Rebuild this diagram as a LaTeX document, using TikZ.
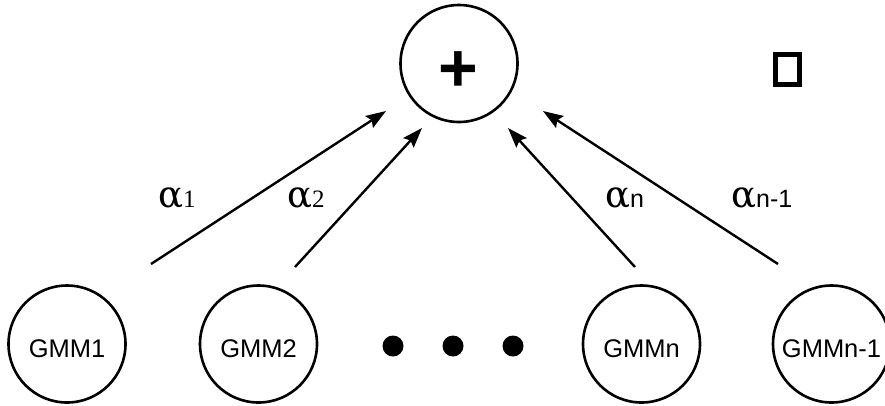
\documentclass[tikz,border=0pt]{standalone}
\usepackage{fontspec}
\setmainfont{Liberation Sans}
\newfontfamily\serifdigits{Liberation Serif}
\newfontfamily\greekserif{DejaVu Serif}
\usetikzlibrary{arrows.meta}
\newcommand{\wsym}{{\greekserif\fontsize{37}{37}\selectfont α}}
\newcommand{\wserif}[1]{{\serifdigits\fontsize{25}{25}\selectfont #1}}
\newcommand{\wsans}[1]{{\fontsize{25}{25}\selectfont #1}}
\begin{document}
\begin{tikzpicture}[x=1pt,y=-1pt,
  unit/.style={circle,draw,line width=2.6pt,minimum size=117pt,inner sep=0pt,
    font=\fontsize{25.5}{25.5}\selectfont,text height=26pt,text depth=0pt},
  sumnode/.style={circle,draw,line width=2.6pt,minimum size=117pt,inner sep=0pt},
  weight/.style={-{Stealth[length=20pt,width=14pt,inset=3pt]},line width=2.4pt},
  wlabel/.style={anchor=base west,inner sep=0pt},
  dotnode/.style={circle,fill,minimum size=21pt,inner sep=0pt},
]
\useasboundingbox (0,0) rectangle (885,405);
\fill[white] (0,0) rectangle (885,405);

% summing node
\node[sumnode] (sum) at (459,63.5) {};
\node[anchor=base,inner sep=0pt,font=\bfseries\fontsize{68}{68}\selectfont] (plus) at (458,91) {+};

% square mark
\node[draw,line width=5pt,minimum width=24pt,minimum height=30pt,inner sep=0pt] (mark) at (787.5,69.5) {};

% mixture components
\node[unit] (g1) at (67,344) {GMM1};
\node[unit] (g2) at (258.5,344) {GMM2};
\node[unit] (gn) at (641.5,344) {GMMn};
\node[unit] (gm) at (831.5,344) {GMMn-1};

% ellipsis dots
\node[dotnode] (d1) at (393,346) {};
\node[dotnode] (d2) at (453,346) {};
\node[dotnode] (d3) at (513,346) {};

% weighted connections
\coordinate (s1) at (151,264);  \coordinate (e1) at (386,111);
\coordinate (s2) at (295,267);  \coordinate (e2) at (422,128);
\coordinate (sn) at (635,267);  \coordinate (en) at (508,128);
\coordinate (sm) at (778,264);  \coordinate (em) at (543,111);
\draw[weight] (s1) -- (e1);
\draw[weight] (s2) -- (e2);
\draw[weight] (sn) -- (en);
\draw[weight] (sm) -- (em);

% weights
\node[wlabel] (w1) at (158,207) {\wsym\wserif{1}};
\node[wlabel] (w2) at (287,207) {\wsym\wserif{2}};
\node[wlabel] (wn) at (605,207) {\wsym\wsans{n}};
\node[wlabel] (wm) at (731,207) {\wsym\wsans{n-1}};
\end{tikzpicture}
\end{document}
